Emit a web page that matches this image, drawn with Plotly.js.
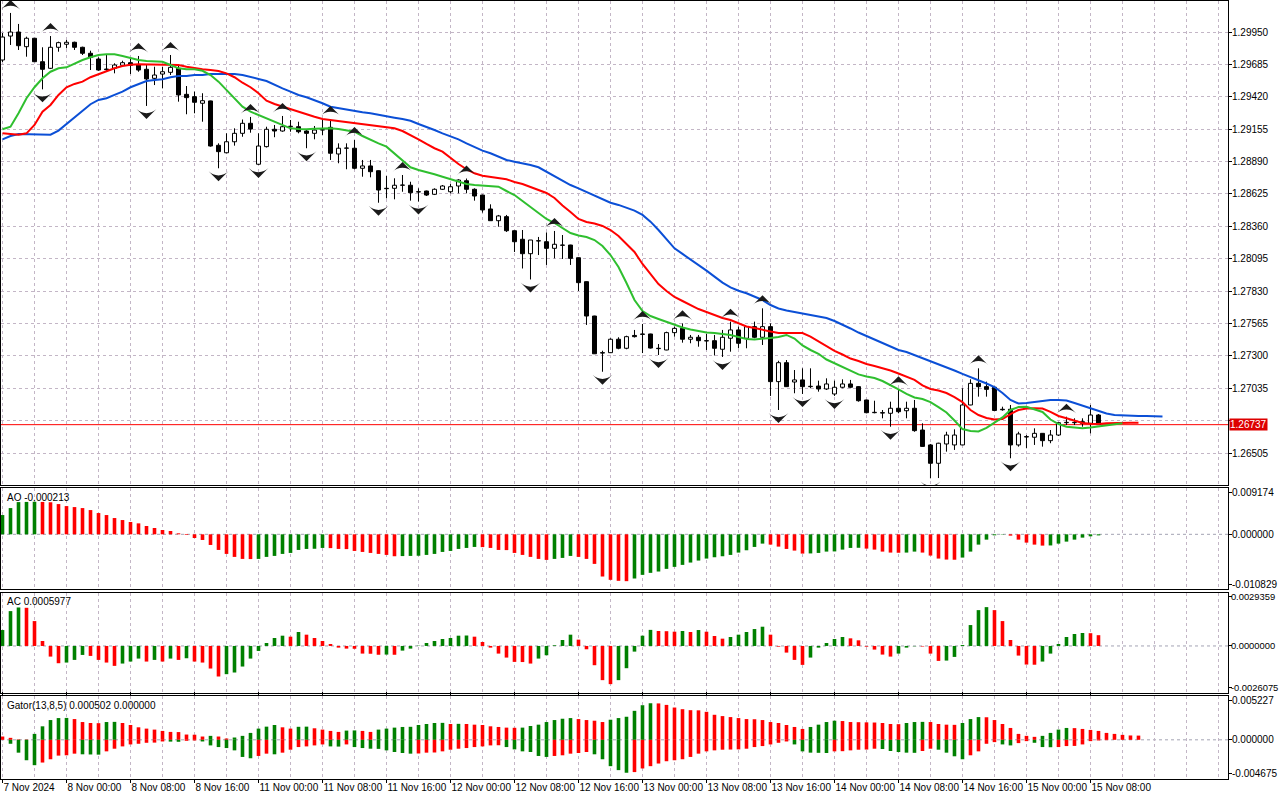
<!DOCTYPE html>
<html><head><meta charset="utf-8">
<script src="https://cdn.plot.ly/plotly-3.0.1.min.js"></script>
<style>html,body{margin:0;padding:0;background:#fff}#chart{width:1280px;height:800px}</style>
</head><body><div id="chart"></div>
<script>
// ---------------- DATA ----------------
const timeLabels = ["7 Nov 2024","8 Nov 00:00","8 Nov 08:00","8 Nov 16:00","11 Nov 00:00","11 Nov 08:00","11 Nov 16:00","12 Nov 00:00","12 Nov 08:00","12 Nov 16:00","13 Nov 00:00","13 Nov 08:00","13 Nov 16:00","14 Nov 00:00","14 Nov 08:00","14 Nov 16:00","15 Nov 00:00","15 Nov 08:00"];
const priceTicks = [1.29950,1.29685,1.29420,1.29155,1.28890,1.28625,1.28360,1.28095,1.27830,1.27565,1.27300,1.27035,1.26770,1.26505];
const aoTickText = ["0.009174","0.000000","-0.010829"];
const acTickText = ["0.0029359","0.0000000","-0.0026075"];
const gatorTickText = ["0.005227","0.000000","-0.004675"];

const open = [1.29721,1.29917,1.29950,1.29830,1.29899,1.29707,1.29653,1.29825,1.29850,1.29866,
1.29825,1.29776,1.29729,1.29647,1.29653,1.29678,1.29699,1.29680,1.29645,1.29571,
1.29606,1.29620,1.29653,1.29440,1.29421,1.29367,1.29386,1.29023,1.28962,1.29052,
1.29121,1.29203,1.28868,1.29012,1.29154,1.29140,1.29175,1.29175,1.29140,1.29121,
1.29148,1.29170,1.28952,1.28999,1.28999,1.28835,1.28854,1.28815,1.28671,1.28671,
1.28696,1.28696,1.28643,1.28649,1.28622,1.28663,1.28643,1.28690,1.28733,1.28663,
1.28616,1.28502,1.28406,1.28439,1.28324,1.28254,1.28136,1.28242,1.28234,1.28180,
1.28207,1.28207,1.28103,1.27907,1.27626,1.27326,1.27326,1.27436,1.27362,1.27467,
1.27479,1.27479,1.27362,1.27348,1.27490,1.27525,1.27436,1.27452,1.27424,1.27424,
1.27354,1.27444,1.27512,1.27444,1.27539,1.27452,1.27539,1.27089,1.27244,1.27086,
1.27103,1.27048,1.27053,1.27029,1.26988,1.27043,1.27070,1.27048,1.26939,1.26835,
1.26835,1.26830,1.26871,1.26851,1.26871,1.26693,1.26571,1.26421,1.26579,1.26571,
1.26571,1.26898,1.27075,1.27048,1.27043,1.26863,1.26863,1.26571,1.26639,1.26634,
1.26666,1.26606,1.26652,1.26753,1.26753,1.26761,1.26748,1.26816];
const high = [1.29942,1.30106,1.30016,1.29912,1.29901,1.29825,1.29917,1.29871,1.29885,1.29871,
1.29830,1.29797,1.29743,1.29762,1.29694,1.29715,1.29737,1.29754,1.29680,1.29666,
1.29666,1.29762,1.29680,1.29508,1.29462,1.29449,1.29388,1.29039,1.29121,1.29162,
1.29234,1.29255,1.29121,1.29175,1.29189,1.29263,1.29230,1.29216,1.29148,1.29181,
1.29230,1.29238,1.29039,1.29039,1.29066,1.28903,1.28903,1.28818,1.28772,1.28753,
1.28780,1.28725,1.28671,1.28652,1.28671,1.28698,1.28706,1.28745,1.28751,1.28671,
1.28618,1.28540,1.28453,1.28453,1.28326,1.28330,1.28248,1.28273,1.28310,1.28322,
1.28289,1.28209,1.28105,1.27909,1.27628,1.27342,1.27444,1.27452,1.27465,1.27512,
1.27561,1.27481,1.27397,1.27498,1.27539,1.27566,1.27471,1.27471,1.27479,1.27471,
1.27512,1.27580,1.27539,1.27544,1.27580,1.27689,1.27566,1.27260,1.27266,1.27184,
1.27198,1.27198,1.27097,1.27116,1.27097,1.27108,1.27103,1.27053,1.26941,1.26933,
1.26857,1.26925,1.27026,1.26925,1.26939,1.26748,1.26579,1.26589,1.26679,1.26699,
1.27035,1.27108,1.27198,1.27089,1.27045,1.26884,1.26898,1.26679,1.26652,1.26707,
1.26668,1.26693,1.26755,1.26802,1.26789,1.26789,1.26898,1.26824];
const low = [1.29705,1.29844,1.29803,1.29748,1.29705,1.29481,1.29647,1.29789,1.29817,1.29803,
1.29762,1.29639,1.29633,1.29625,1.29612,1.29672,1.29606,1.29625,1.29345,1.29516,
1.29489,1.29598,1.29380,1.29277,1.29285,1.29216,1.29012,1.28835,1.28958,1.29020,
1.29093,1.29126,1.28862,1.29005,1.29089,1.29134,1.29134,1.29121,1.28999,1.29072,
1.29107,1.28903,1.28876,1.28827,1.28827,1.28766,1.28761,1.28553,1.28589,1.28581,
1.28643,1.28570,1.28563,1.28608,1.28616,1.28657,1.28630,1.28630,1.28630,1.28570,
1.28472,1.28404,1.28357,1.28314,1.28150,1.28015,1.27925,1.28125,1.28044,1.28098,
1.28093,1.28044,1.27831,1.27553,1.27315,1.27170,1.27323,1.27354,1.27354,1.27450,
1.27323,1.27360,1.27307,1.27346,1.27457,1.27408,1.27403,1.27375,1.27348,1.27303,
1.27291,1.27334,1.27362,1.27362,1.27444,1.27389,1.26972,1.26857,1.27046,1.26994,
1.26988,1.27035,1.27007,1.27021,1.26972,1.27035,1.27035,1.26925,1.26830,1.26830,
1.26789,1.26720,1.26830,1.26789,1.26679,1.26555,1.26298,1.26300,1.26516,1.26530,
1.26569,1.26896,1.26966,1.26966,1.26849,1.26851,1.26462,1.26557,1.26544,1.26571,
1.26557,1.26585,1.26644,1.26734,1.26734,1.26720,1.26666,1.26737];
const close = [1.29909,1.29950,1.29838,1.29899,1.29707,1.29645,1.29825,1.29863,1.29866,1.29825,
1.29776,1.29743,1.29639,1.29642,1.29680,1.29699,1.29678,1.29639,1.29566,1.29598,
1.29625,1.29661,1.29435,1.29413,1.29375,1.29388,1.29017,1.28971,1.29052,1.29121,
1.29203,1.29156,1.29017,1.29154,1.29140,1.29175,1.29179,1.29134,1.29121,1.29148,
1.29151,1.28958,1.28999,1.29001,1.28835,1.28854,1.28807,1.28657,1.28668,1.28696,
1.28698,1.28635,1.28641,1.28616,1.28663,1.28690,1.28684,1.28739,1.28663,1.28608,
1.28494,1.28406,1.28445,1.28324,1.28234,1.28136,1.28248,1.28240,1.28180,1.28213,
1.28205,1.28098,1.27899,1.27626,1.27317,1.27323,1.27436,1.27362,1.27457,1.27457,
1.27476,1.27364,1.27359,1.27490,1.27525,1.27436,1.27452,1.27424,1.27422,1.27362,
1.27452,1.27512,1.27403,1.27539,1.27452,1.27539,1.27089,1.27244,1.27048,1.27103,
1.27048,1.27051,1.27029,1.27070,1.27043,1.27070,1.27043,1.26933,1.26835,1.26838,
1.26832,1.26871,1.26843,1.26871,1.26688,1.26559,1.26421,1.26585,1.26652,1.26652,
1.26898,1.27075,1.27048,1.27026,1.26853,1.26859,1.26571,1.26661,1.26636,1.26666,
1.26606,1.26652,1.26753,1.26756,1.26756,1.26748,1.26816,1.26737];

// Alligator (values as drawn, already shifted forward)
const jaw = [1.29072,1.29099,1.29116,1.29116,1.29116,1.29110,1.29110,1.29143,1.29197,1.29252,
1.29312,1.29359,1.29394,1.29408,1.29435,1.29462,1.29498,1.29522,1.29549,1.29557,
1.29563,1.29580,1.29590,1.29590,1.29598,1.29598,1.29606,1.29606,1.29606,1.29606,
1.29598,1.29584,1.29566,1.29549,1.29516,1.29489,1.29462,1.29435,1.29416,1.29394,
1.29367,1.29339,1.29326,1.29318,1.29306,1.29293,1.29285,1.29271,1.29257,1.29249,
1.29238,1.29224,1.29197,1.29175,1.29148,1.29121,1.29099,1.29072,1.29039,1.29007,
1.28979,1.28958,1.28930,1.28903,1.28889,1.28876,1.28862,1.28843,1.28807,1.28772,
1.28739,1.28698,1.28671,1.28643,1.28611,1.28581,1.28553,1.28535,1.28510,1.28488,
1.28453,1.28398,1.28330,1.28254,1.28180,1.28134,1.28090,1.28044,1.27997,1.27948,
1.27899,1.27861,1.27833,1.27812,1.27784,1.27757,1.27716,1.27688,1.27671,1.27659,
1.27647,1.27634,1.27622,1.27610,1.27585,1.27557,1.27524,1.27491,1.27463,1.27438,
1.27409,1.27377,1.27348,1.27332,1.27307,1.27282,1.27258,1.27233,1.27209,1.27180,
1.27152,1.27127,1.27103,1.27074,1.27045,1.26996,1.26939,1.26910,1.26914,1.26922,
1.26931,1.26939,1.26939,1.26935,1.26914,1.26894,1.26869,1.26849,1.26828,1.26816,
1.26812,1.26808,1.26808,1.26808,1.26804,1.26804];
const teeth = [1.29121,1.29113,1.29110,1.29121,1.29189,1.29298,1.29353,1.29435,1.29498,1.29525,
1.29544,1.29580,1.29606,1.29631,1.29653,1.29672,1.29683,1.29686,1.29686,1.29686,
1.29686,1.29683,1.29680,1.29666,1.29653,1.29645,1.29639,1.29631,1.29612,1.29580,
1.29535,1.29498,1.29449,1.29388,1.29361,1.29339,1.29318,1.29296,1.29277,1.29257,
1.29238,1.29230,1.29222,1.29214,1.29203,1.29195,1.29189,1.29181,1.29175,1.29162,
1.29140,1.29107,1.29072,1.29034,1.28999,1.28971,1.28917,1.28870,1.28827,1.28794,
1.28774,1.28766,1.28753,1.28745,1.28723,1.28706,1.28682,1.28657,1.28633,1.28592,
1.28530,1.28477,1.28420,1.28395,1.28383,1.28363,1.28330,1.28281,1.28215,1.28150,
1.28052,1.27970,1.27888,1.27831,1.27782,1.27749,1.27716,1.27683,1.27659,1.27634,
1.27610,1.27593,1.27569,1.27540,1.27528,1.27512,1.27499,1.27487,1.27487,1.27487,
1.27487,1.27458,1.27417,1.27377,1.27340,1.27311,1.27278,1.27258,1.27233,1.27217,
1.27201,1.27180,1.27156,1.27131,1.27103,1.27058,1.27029,1.27016,1.26996,1.26963,
1.26922,1.26857,1.26816,1.26792,1.26779,1.26783,1.26824,1.26857,1.26869,1.26871,
1.26869,1.26841,1.26808,1.26789,1.26771,1.26751,1.26745,1.26742,1.26748,1.26751,
1.26753,1.26753,1.26753];
const lips = [1.29154,1.29175,1.29285,1.29408,1.29498,1.29571,1.29625,1.29653,1.29661,1.29694,
1.29721,1.29743,1.29762,1.29768,1.29768,1.29754,1.29735,1.29721,1.29713,1.29707,
1.29707,1.29680,1.29653,1.29645,1.29645,1.29633,1.29598,1.29544,1.29476,1.29408,
1.29339,1.29298,1.29271,1.29244,1.29216,1.29195,1.29162,1.29156,1.29154,1.29159,
1.29162,1.29162,1.29156,1.29148,1.29134,1.29099,1.29066,1.29039,1.29012,1.28958,
1.28897,1.28843,1.28821,1.28805,1.28786,1.28766,1.28745,1.28725,1.28706,1.28698,
1.28692,1.28690,1.28684,1.28649,1.28616,1.28567,1.28518,1.28469,1.28420,1.28387,
1.28346,1.28305,1.28285,1.28273,1.28248,1.28199,1.28125,1.28027,1.27896,1.27757,
1.27667,1.27626,1.27602,1.27577,1.27553,1.27532,1.27516,1.27503,1.27491,1.27487,
1.27479,1.27471,1.27454,1.27438,1.27434,1.27438,1.27446,1.27454,1.27471,1.27442,
1.27385,1.27348,1.27317,1.27270,1.27238,1.27209,1.27180,1.27148,1.27131,1.27119,
1.27094,1.27062,1.27025,1.26988,1.26959,1.26947,1.26922,1.26881,1.26837,1.26771,
1.26701,1.26685,1.26681,1.26710,1.26751,1.26796,1.26857,1.26881,1.26884,1.26865,
1.26841,1.26779,1.26742,1.26720,1.26714,1.26707,1.26714,1.26722,1.26734,1.26742,
1.26748];

const ao = [0.003816,0.005198,0.006383,0.006416,0.006448,0.006416,0.006350,0.005988,0.005593,0.005396,
0.005198,0.004803,0.004211,0.003816,0.003224,0.002829,0.002435,0.002171,0.001645,0.001250,
0.000855,0.000658,0.000197,-0.000132,-0.000724,-0.001119,-0.002106,-0.003093,-0.003882,-0.004474,
-0.004869,-0.004902,-0.004869,-0.004474,-0.004277,-0.003882,-0.003685,-0.003093,-0.002895,-0.002862,
-0.002698,-0.002731,-0.002895,-0.002928,-0.003290,-0.003487,-0.003685,-0.003882,-0.004080,-0.004343,
-0.004310,-0.004277,-0.004244,-0.004080,-0.003882,-0.003487,-0.003290,-0.002895,-0.002698,-0.002500,
-0.002533,-0.002698,-0.003093,-0.003126,-0.003685,-0.004080,-0.004474,-0.004869,-0.005067,-0.004869,
-0.004672,-0.004277,-0.004474,-0.004869,-0.005856,-0.008357,-0.009015,-0.009212,-0.009278,-0.008751,
-0.008028,-0.007633,-0.007370,-0.006843,-0.006448,-0.006054,-0.005593,-0.005198,-0.004803,-0.004540,
-0.004343,-0.004080,-0.003619,-0.003158,-0.002500,-0.001842,-0.002040,-0.002435,-0.002895,-0.003224,
-0.003816,-0.003784,-0.003685,-0.003422,-0.003389,-0.003027,-0.002698,-0.002665,-0.002829,-0.003027,
-0.003422,-0.003619,-0.003652,-0.003619,-0.003422,-0.003619,-0.004211,-0.004803,-0.005001,-0.005034,
-0.004606,-0.003422,-0.002040,-0.001053,-0.000197,-0.000066,-0.000263,-0.001053,-0.001645,-0.002040,
-0.002237,-0.002204,-0.001842,-0.001448,-0.001053,-0.000658,-0.000395,-0.000213];
const ac = [0.000883,0.001932,0.002134,0.002116,0.001380,0.000276,-0.000589,-0.000957,-0.000920,-0.000773,
-0.000497,-0.000552,-0.000773,-0.000920,-0.001104,-0.000975,-0.000865,-0.000699,-0.000865,-0.000773,
-0.000865,-0.000699,-0.000773,-0.000681,-0.000865,-0.000920,-0.001251,-0.001693,-0.001564,-0.001472,
-0.001141,-0.000699,-0.000276,0.000166,0.000442,0.000570,0.000515,0.000773,0.000626,0.000442,
0.000276,0.000110,-0.000092,-0.000147,-0.000156,-0.000423,-0.000432,-0.000488,-0.000478,-0.000488,
-0.000258,-0.000147,0.000018,0.000166,0.000276,0.000386,0.000442,0.000570,0.000580,0.000515,
0.000221,-0.000092,-0.000423,-0.000644,-0.000883,-0.000892,-0.000975,-0.000699,-0.000515,0.000037,
0.000331,0.000626,0.000350,-0.000184,-0.001067,-0.001895,-0.002116,-0.001895,-0.001233,-0.000313,
0.000570,0.000892,0.000828,0.000819,0.000791,0.000828,0.000773,0.000883,0.000791,0.000552,
0.000405,0.000497,0.000626,0.000773,0.000938,0.001067,0.000626,-0.000037,-0.000368,-0.000773,
-0.001049,-0.000644,-0.000092,0.000166,0.000386,0.000497,0.000423,0.000313,-0.000037,-0.000202,
-0.000478,-0.000589,-0.000423,-0.000092,-0.000018,-0.000028,-0.000423,-0.000828,-0.000810,-0.000607,
0.000055,0.001159,0.001987,0.002153,0.001987,0.001380,0.000331,-0.000534,-0.001030,-0.001040,
-0.000865,-0.000423,0.000110,0.000497,0.000662,0.000718,0.000708,0.0005977];
const gatorUpper = [0.000393,0.000236,0.000059,0.000039,0.000707,0.001611,0.002358,0.002594,0.002613,0.002476,
0.002122,0.002004,0.001985,0.002122,0.002142,0.002004,0.001769,0.001493,0.001336,0.001218,
0.001061,0.000943,0.000924,0.000629,0.000609,0.000393,0.000472,0.000393,0.000157,0.000275,
0.000472,0.000825,0.001336,0.001572,0.001769,0.001493,0.001336,0.001552,0.001572,0.001376,
0.001218,0.001061,0.000943,0.001100,0.001120,0.001061,0.000943,0.001218,0.001336,0.001454,
0.001533,0.001552,0.001769,0.001886,0.002004,0.002024,0.001886,0.001906,0.001886,0.001808,
0.001769,0.001611,0.001533,0.001454,0.001434,0.001454,0.001651,0.001808,0.002122,0.002358,
0.002515,0.002594,0.002476,0.002358,0.002279,0.002122,0.002397,0.002594,0.002751,0.003458,
0.004127,0.004362,0.004343,0.004166,0.003851,0.003655,0.003537,0.003517,0.003341,0.002987,
0.002830,0.002712,0.002594,0.002476,0.002456,0.002358,0.002122,0.002004,0.001769,0.001533,
0.001297,0.001533,0.001808,0.002122,0.002279,0.002240,0.002122,0.002103,0.002083,0.002063,
0.002004,0.001886,0.001867,0.002004,0.002122,0.002142,0.002122,0.001886,0.001808,0.001788,
0.002004,0.002476,0.002712,0.002692,0.002358,0.001886,0.001415,0.000707,0.000472,0.000354,
0.000472,0.000825,0.001218,0.001415,0.001395,0.001297,0.001179,0.001061,0.000825,0.000707,
0.000590,0.000519,0.000502];
const gatorLower = [0,-0.000472,-0.001533,-0.002437,-0.003026,-0.002712,-0.002319,-0.001886,-0.001847,-0.001651,
-0.001729,-0.001749,-0.001769,-0.001376,-0.001061,-0.000786,-0.000550,-0.000472,-0.000354,-0.000334,
-0.000197,-0.000216,-0.000236,-0.000118,-0.000079,-0.000197,-0.000668,-0.000865,-0.000983,-0.001258,
-0.002044,-0.002201,-0.001926,-0.001651,-0.001729,-0.001533,-0.001179,-0.000865,-0.000786,-0.000668,
-0.000550,-0.000786,-0.000806,-0.000550,-0.000865,-0.000983,-0.001061,-0.001081,-0.001258,-0.001454,
-0.001572,-0.001651,-0.001631,-0.001533,-0.001513,-0.001376,-0.001179,-0.001061,-0.000983,-0.000865,
-0.000786,-0.000668,-0.000648,-0.000865,-0.001140,-0.001376,-0.001454,-0.001926,-0.002044,-0.001926,
-0.001847,-0.001651,-0.001572,-0.001454,-0.001729,-0.002319,-0.003144,-0.003616,-0.003930,-0.003851,
-0.003419,-0.003144,-0.002830,-0.002555,-0.002437,-0.002319,-0.002044,-0.001651,-0.001376,-0.001258,
-0.001179,-0.001159,-0.001140,-0.001061,-0.000865,-0.000747,-0.000550,-0.000354,-0.000197,-0.000550,
-0.001376,-0.001533,-0.001552,-0.001572,-0.001376,-0.001356,-0.001258,-0.001179,-0.001159,-0.001061,
-0.001100,-0.001336,-0.001454,-0.001533,-0.001552,-0.001336,-0.001061,-0.001179,-0.001533,-0.001965,
-0.002319,-0.001847,-0.001376,-0.000472,-0.000275,-0.000550,-0.000668,-0.000393,-0.000157,-0.000354,
-0.000865,-0.000884,-0.000865,-0.000747,-0.000727,-0.000550,-0.000157,-0.000079,-0.000039,0,
0,0,0];
const fractalUp = [1,6,17,21,31,35,41,44,50,58,69,80,85,91,95,112,122,133];
const fractalDown = [5,18,27,32,38,47,52,66,75,82,90,97,100,104,111,116,126];

// ---------------- STYLE ----------------
const FONT = 'Liberation Sans, Arial, sans-serif';
const GRID = '#c3b6c6';
const GDASH = '3px,3px';
const GREEN = '#008000', RED = '#ff0000';

const idx = a => a.map((_, i) => i);
const n = close.length;
const lastPrice = close[n - 1];

// candle wicks (split so they don't cross the white bodies)
const wx = [], wy = [];
for (let i = 0; i < n; i++) {
  const top = Math.max(open[i], close[i]), bot = Math.min(open[i], close[i]);
  wx.push(i, i, null, i, i, null);
  wy.push(high[i], top, null, bot, low[i], null);
}
const bodyH = close.map((c, i) => Math.max(Math.abs(c - open[i]), 0.000004));
const bodyB = close.map((c, i) => Math.min(c, open[i]));
const bodyC = close.map((c, i) => c > open[i] ? '#ffffff' : '#000000');

function upDownColors(arr, firstGreen, useAbs) {
  return arr.map((v, i) => {
    if (i === 0) return firstGreen ? GREEN : RED;
    const a = useAbs ? Math.abs(v) : v, b = useAbs ? Math.abs(arr[i - 1]) : arr[i - 1];
    return a > b ? GREEN : RED;
  });
}

// fractal arrow tips sit a fixed pixel gap beyond the bar's extreme
const PX = (1.302038 - 1.262432) / 484;   // price per pixel on the main panel
const traces = [
  {type:'scatter', mode:'lines', x:wx, y:wy, xaxis:'x', yaxis:'y', line:{color:'#000', width:1}, hoverinfo:'skip'},
  {type:'bar', x:idx(close), y:bodyH, base:bodyB, width:0.5, xaxis:'x', yaxis:'y',
   marker:{color:bodyC, line:{color:'#000', width:1}}, hoverinfo:'skip'},
  {type:'scatter', mode:'lines', x:idx(jaw), y:jaw, xaxis:'x', yaxis:'y', line:{color:'#0b4fd6', width:2}},
  {type:'scatter', mode:'lines', x:idx(teeth), y:teeth, xaxis:'x', yaxis:'y', line:{color:'#ff0000', width:2}},
  {type:'scatter', mode:'lines', x:idx(lips), y:lips, xaxis:'x', yaxis:'y', line:{color:'#2fbf2f', width:2}},
  {type:'scatter', mode:'markers', x:fractalUp, y:fractalUp.map(i => high[i] + 13 * PX), xaxis:'x', yaxis:'y',
   marker:{symbol:'arrow-wide', size:14, color:'#1a1a1a', angle:0, line:{width:0}}},
  {type:'scatter', mode:'markers', x:fractalDown, y:fractalDown.map(i => low[i] - 13 * PX), xaxis:'x', yaxis:'y',
   marker:{symbol:'arrow-wide', size:14, color:'#1a1a1a', angle:180, line:{width:0}}},
  {type:'bar', x:idx(ao), y:ao, width:0.45, xaxis:'x', yaxis:'y2', marker:{color:upDownColors(ao, true, false), line:{width:0}}},
  {type:'bar', x:idx(ac), y:ac, width:0.45, xaxis:'x', yaxis:'y3', marker:{color:upDownColors(ac, true, false), line:{width:0}}},
  {type:'bar', x:idx(gatorUpper), y:gatorUpper, width:0.45, xaxis:'x', yaxis:'y4', marker:{color:upDownColors(gatorUpper, false, false), line:{width:0}}},
  {type:'bar', x:idx(gatorLower), y:gatorLower, width:0.45, xaxis:'x', yaxis:'y4', marker:{color:upDownColors(gatorLower, true, true), line:{width:0}}}
];

const majorIdx = timeLabels.map((_, k) => k * 8);
const minorIdx = [];
for (let v = 4; v <= 152; v += 4) if (!majorIdx.includes(v)) minorIdx.push(v);

const yCommon = {side:'right', anchor:'x', showline:true, mirror:true, linecolor:'#000', linewidth:1,
  ticks:'outside', ticklen:3, tickcolor:'#000', zeroline:false, fixedrange:true, ticklabelstandoff:-2,
  tickfont:{family:FONT, size:10, color:'#000'}, tickmode:'array'};

const layout = {
  width:1280, height:800,
  margin:{l:1, r:52, t:1, b:21, pad:0},
  paper_bgcolor:'#ffffff', plot_bgcolor:'#ffffff',
  showlegend:false, hovermode:false, barmode:'overlay',
  font:{family:FONT, size:10, color:'#000'},
  xaxis:{anchor:'y4', range:[-0.1875, 153.19], showline:true, mirror:'all', linecolor:'#000', linewidth:1,
    tickmode:'array', tickvals:majorIdx, ticktext:timeLabels, ticklabelposition:'outside right', tickangle:0,
    ticks:'outside', ticklen:3, tickcolor:'#000', ticklabelstandoff:-1,
    showgrid:true, gridcolor:GRID, griddash:GDASH, gridwidth:1,
    minor:{tickmode:'array', tickvals:minorIdx, showgrid:true, gridcolor:GRID, griddash:GDASH, gridwidth:1, ticks:''},
    zeroline:false, fixedrange:true, rangeslider:{visible:false},
    tickfont:{family:FONT, size:10, color:'#000'}},
  yaxis:Object.assign({}, yCommon, {domain:[0.37789, 1], range:[1.262432, 1.302038],
    tickvals:priceTicks,
    // the level sitting under the last-price tag is hidden by it, as in the terminal
    ticktext:priceTicks.map(v => Math.abs(v - lastPrice) < 0.0005 ? '' : v.toFixed(5)),
    showgrid:true, gridcolor:GRID, griddash:GDASH, gridwidth:1}),
  yaxis2:Object.assign({}, yCommon, {domain:[0.24422, 0.37404], range:[-0.010829, 0.009174],
    tickvals:[0.008243, 0, -0.009898], ticktext:aoTickText, showgrid:false}),
  yaxis3:Object.assign({}, yCommon, {domain:[0.11054, 0.23907], range:[-0.0026075, 0.0029359],
    tickvals:[0.002731, 0, -0.002292], ticktext:acTickText, showgrid:false, ticklabelstandoff:-3,
    tickfont:{family:FONT, size:9.4, color:'#000'}}),
  yaxis4:Object.assign({}, yCommon, {domain:[0, 0.10668], range:[-0.004675, 0.005227],
    tickvals:[0.004714, 0, -0.004078], ticktext:gatorTickText, showgrid:false}),
  shapes:[
    {type:'line', xref:'paper', x0:0, x1:1, yref:'y', y0:lastPrice, y1:lastPrice, line:{color:'#ff0000', width:1}, layer:'between'},
    {type:'line', xref:'paper', x0:0, x1:1, yref:'y2', y0:0, y1:0, line:{color:'#a4a4b4', width:1, dash:GDASH}, layer:'between'},
    {type:'line', xref:'paper', x0:0, x1:1, yref:'y3', y0:0, y1:0, line:{color:'#a4a4b4', width:1, dash:GDASH}, layer:'between'},
    {type:'line', xref:'paper', x0:0, x1:1, yref:'y4', y0:0, y1:0, line:{color:'#a4a4b4', width:1, dash:GDASH}, layer:'between'}
  ],
  annotations:[
    {xref:'paper', x:1, xanchor:'left', xshift:1, yref:'y', y:lastPrice, yanchor:'middle',
     text:lastPrice.toFixed(5), showarrow:false, bgcolor:'#dd0000', borderpad:0,
     font:{family:FONT, size:10, color:'#ffffff'}},
    {xref:'paper', x:0, xanchor:'left', xshift:4, yref:'y2 domain', y:1, yanchor:'top', yshift:-2,
     text:'AO ' + ao[ao.length - 1].toFixed(6), showarrow:false, font:{family:FONT, size:10, color:'#000'}},
    {xref:'paper', x:0, xanchor:'left', xshift:4, yref:'y3 domain', y:1, yanchor:'top', yshift:-1,
     text:'AC ' + ac[ac.length - 1].toFixed(7), showarrow:false, font:{family:FONT, size:10, color:'#000'}},
    {xref:'paper', x:0, xanchor:'left', xshift:4, yref:'y4 domain', y:1, yanchor:'top', yshift:-2,
     text:'Gator(13,8,5) ' + gatorUpper[gatorUpper.length - 1].toFixed(6) + ' ' + Math.abs(gatorLower[gatorLower.length - 1]).toFixed(6),
     showarrow:false, font:{family:FONT, size:10, color:'#000'}}
  ]
};

Plotly.newPlot('chart', traces, layout, {staticPlot:true, displayModeBar:false});
</script>
</body></html>
